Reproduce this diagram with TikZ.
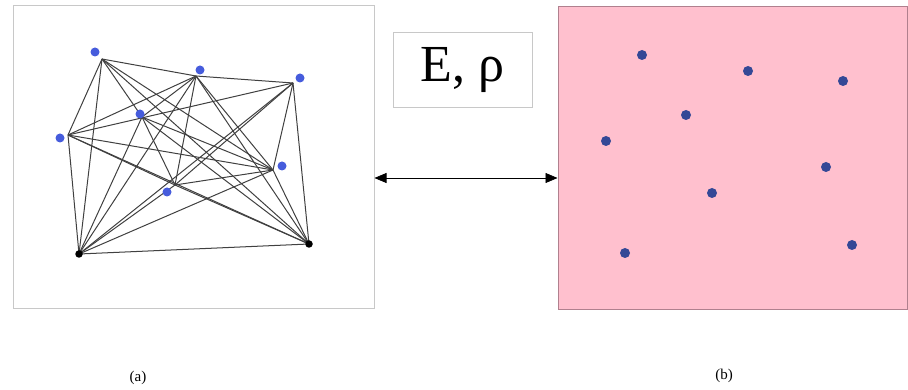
\documentclass[tikz,border=0pt]{standalone}
\usepackage{fontspec}
\setmainfont{Liberation Serif}
\usetikzlibrary{arrows.meta}
\definecolor{framegray}{RGB}{200,200,200}
\definecolor{panelpink}{RGB}{255,192,206}
\definecolor{pinkedge}{RGB}{176,128,142}
\definecolor{nodeblue}{RGB}{70,92,220}
\definecolor{sensorblue}{RGB}{52,72,150}
\begin{document}
\begin{tikzpicture}[x=1pt,y=-1pt,
  frame/.style={draw=framegray,line width=1pt},
  edge/.style={draw=black!75,line width=1pt},
  bluedot/.style={circle,fill=nodeblue,inner sep=0pt,minimum size=9pt},
  anchordot/.style={circle,fill=black,inner sep=0pt,minimum size=7.5pt},
  sensordot/.style={circle,fill=sensorblue,inner sep=0pt,minimum size=10pt},
  caption/.style={font=\fontsize{15}{18}\selectfont}]
\useasboundingbox (0,0) rectangle (908,390);

% (a) network panel
\node[frame,minimum width=361pt,minimum height=302pt,inner sep=0pt] (pa) at (193.5,157) {};

\coordinate (A) at (102,59);
\coordinate (B) at (196,76);
\coordinate (C) at (293,83);
\coordinate (D) at (142,117);
\coordinate (E) at (68,135);
\coordinate (F) at (273,170);
\coordinate (G) at (175,185);
\coordinate (H) at (79,254);
\coordinate (I) at (309,244);

\foreach \u/\v in {A/B,A/D,A/E,A/H,A/F,A/I,
                   B/C,B/E,B/G,B/H,B/F,B/I,B/D,
                   C/E,C/F,C/I,C/G,C/H,
                   D/G,D/H,D/F,D/I,
                   E/H,E/F,E/G,E/I,
                   F/G,F/H,F/I,
                   G/H,G/I,
                   H/I}
  \draw[edge] (\u) -- (\v);

\node[bluedot] (dA) at (95,52) {};
\node[bluedot] (dB) at (200,70) {};
\node[bluedot] (dC) at (300,78) {};
\node[bluedot] (dD) at (140,114) {};
\node[bluedot] (dE) at (60,138) {};
\node[bluedot] (dF) at (282,166) {};
\node[bluedot] (dG) at (167,192) {};
\node[anchordot] (dH) at (H) {};
\node[anchordot] (dI) at (I) {};

% parameter box
\node[frame,minimum width=139pt,minimum height=75pt,inner sep=0pt,
      font=\fontsize{52}{60}\selectfont] (par) at (462.5,70.5) {E, ρ};

% (b) continuum panel
\node[draw=pinkedge,fill=panelpink,line width=1pt,minimum width=349pt,
      minimum height=302pt,inner sep=0pt] (pb) at (732.5,158) {};
\foreach \n/\x/\y in {s1/642/55, s2/748/71, s3/843/81, s4/686/115, s5/606/141,
                      s6/826/167, s7/712/193, s8/625/253, s9/852/245}
  \node[sensordot] (\n) at (\x,\y) {};

% two-way correspondence
\draw[line width=0.7pt,{Triangle[length=12pt,width=10pt]}-{Triangle[length=12pt,width=10pt]}]
  (pa.east |- 0,178) -- (pb.west |- 0,178);

% captions
\node[caption] (capa) at (138,378) {(a)};
\node[caption] (capb) at (724,376) {(b)};
\end{tikzpicture}
\end{document}
